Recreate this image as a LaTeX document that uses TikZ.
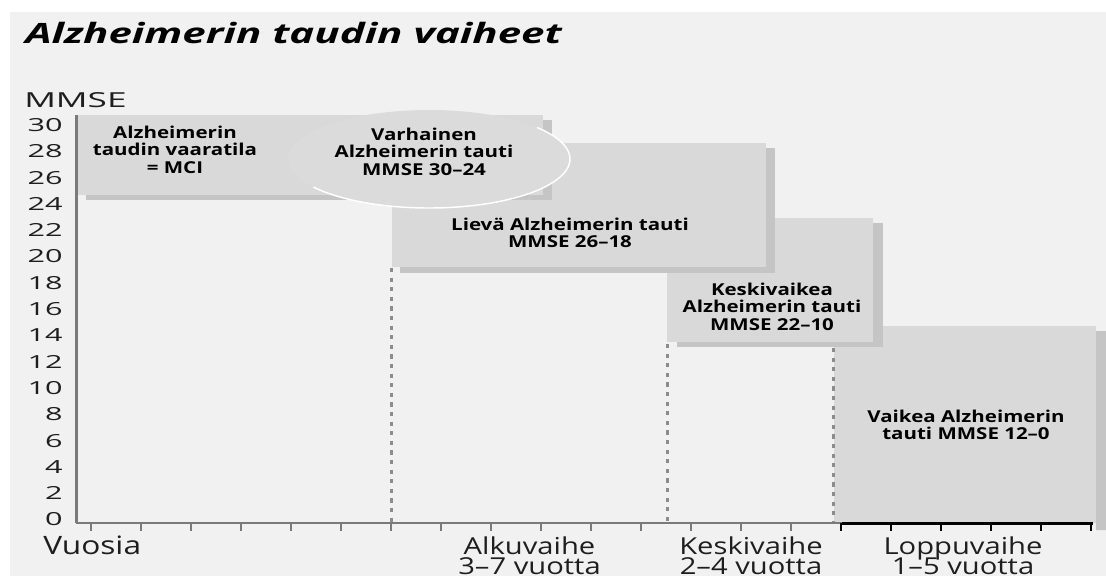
\documentclass[tikz,border=0pt]{standalone}
\usepackage{fontspec}
\setmainfont[FakeStretch=1.25]{Open Sans}
\newfontfamily\titlefont[FakeStretch=1.5]{Open Sans}
\newfontfamily\scalefont[FakeStretch=1.7]{Open Sans}
\usetikzlibrary{shapes.geometric}
\definecolor{bggray}{HTML}{F1F1F1}
\definecolor{boxgray}{HTML}{D9D9D9}
\definecolor{shadowgray}{HTML}{C5C5C5}
\definecolor{ovalgray}{HTML}{DBDBDB}
\definecolor{axisgray}{HTML}{7A7A7A}
\definecolor{guidegray}{HTML}{8C8C8C}
\definecolor{inkgray}{HTML}{1E1E1E}
\tikzset{
	stagebox/.style={fill=boxgray},
	stageshadow/.style={fill=shadowgray},
	stagetext/.style={
		anchor=north,
		align=center,
		inner sep=0pt,
		font={\bfseries\fontsize{12.3}{13.1}\selectfont\lineskiplimit -20pt\relax}
	},
	ticklabel/.style={anchor=east, inner sep=0pt, text=inkgray, font=\scalefont\fontsize{13.5}{13.5}\selectfont},
	phase/.style={anchor=north, align=center, inner sep=0pt, text=inkgray, font={\fontsize{17.5}{15}\selectfont\lineskiplimit -20pt\relax}},
	guide/.style={guidegray, line width=2.25pt, dash pattern=on 3.2pt off 4pt}
}

\begin{document}
\begin{tikzpicture}[x=0.75pt, y=-0.75pt]
	\useasboundingbox (0,0) rectangle (1106,576);
	\fill[white] (0,0) rectangle (1106,576);
	\fill[bggray] (10,12) rectangle (1106,576);

	\node[anchor=base west, inner sep=0pt, font=\titlefont\bfseries\itshape\fontsize{21}{21}\selectfont] (title) at (25,43) {Alzheimerin taudin vaiheet};
	\node[anchor=base west, inner sep=0pt, text=inkgray, font=\scalefont\fontsize{15.5}{15.5}\selectfont] (mmse) at (24,107) {MMSE};

	% MMSE scale
	\foreach \v in {0,2,...,30}
		\node[ticklabel] (y\v) at (63,519.5-13.15*\v) {\v};

	% stages, back to front
	\fill[stageshadow] (841,331) -- (1106,331) -- (1106,530) -- (1096,530) -- (1096,523) -- (841,523) -- cycle;
	\fill[stagebox] (834,326) rectangle (1096,523);
	\fill[stageshadow] (677,223) rectangle (883,347);
	\fill[stagebox] (667,218) rectangle (873,342);
	\fill[stageshadow] (400,148) rectangle (775,273);
	\fill[stagebox] (392,143) rectangle (766,267);
	\fill[stageshadow] (86,120) rectangle (552,200);
	\fill[stagebox] (78,115) rectangle (543,195);
	\node[ellipse, fill=ovalgray, inner sep=0pt, minimum width=211.5pt, minimum height=73.5pt] (early) at (429,159) {};
	\draw[white, line width=1.1pt] (early.center) ++(145:141 and 49) arc[start angle=145, end angle=-40, x radius=141, y radius=49];

	\node[stagetext] (mci) at (175,125.5) {Alzheimerin\\taudin vaaratila\\= MCI};
	\node[stagetext] (earlytext) at (424,127.5) {Varhainen\\Alzheimerin tauti\\MMSE 30–24};
	\node[stagetext] (mild) at (570,217.5) {Lievä Alzheimerin tauti\\MMSE 26–18};
	\node[stagetext] (moderate) at (772,282.5) {Keskivaikea\\Alzheimerin tauti\\MMSE 22–10};
	\node[stagetext] (severe) at (966,409.5) {Vaikea Alzheimerin\\tauti MMSE 12–0};

	% phase borders
	\draw[guide] (391,268) -- (391,523);
	\draw[guide] (667,344) -- (667,523);
	\draw[guide] (833,348) -- (833,523);

	% axes
	\draw[axisgray, line width=2.25pt] (76,115) -- (76,523);
	\draw[axisgray, line width=1.5pt] (76,523) -- (842,523);
	\draw[black, line width=2.25pt] (842,523) -- (1093,523);
	\foreach \k in {0,...,14}
		\draw[axisgray, line width=1.5pt] (90.7+50*\k,523) -- ++(0,8);
	\foreach \k in {15,...,20}
		\draw[black, line width=1.5pt] (90.7+50*\k,523) -- ++(0,8);

	\node[phase, anchor=north west, font=\fontsize{19}{15}\selectfont] (years) at (43,536) {Vuosia};
	\node[phase] (alku) at (529.5,536) {Alkuvaihe\\3–7 vuotta};
	\node[phase] (keski) at (751,536) {Keskivaihe\\2–4 vuotta};
	\node[phase] (loppu) at (963,536) {Loppuvaihe\\1–5 vuotta};
\end{tikzpicture}
\end{document}
